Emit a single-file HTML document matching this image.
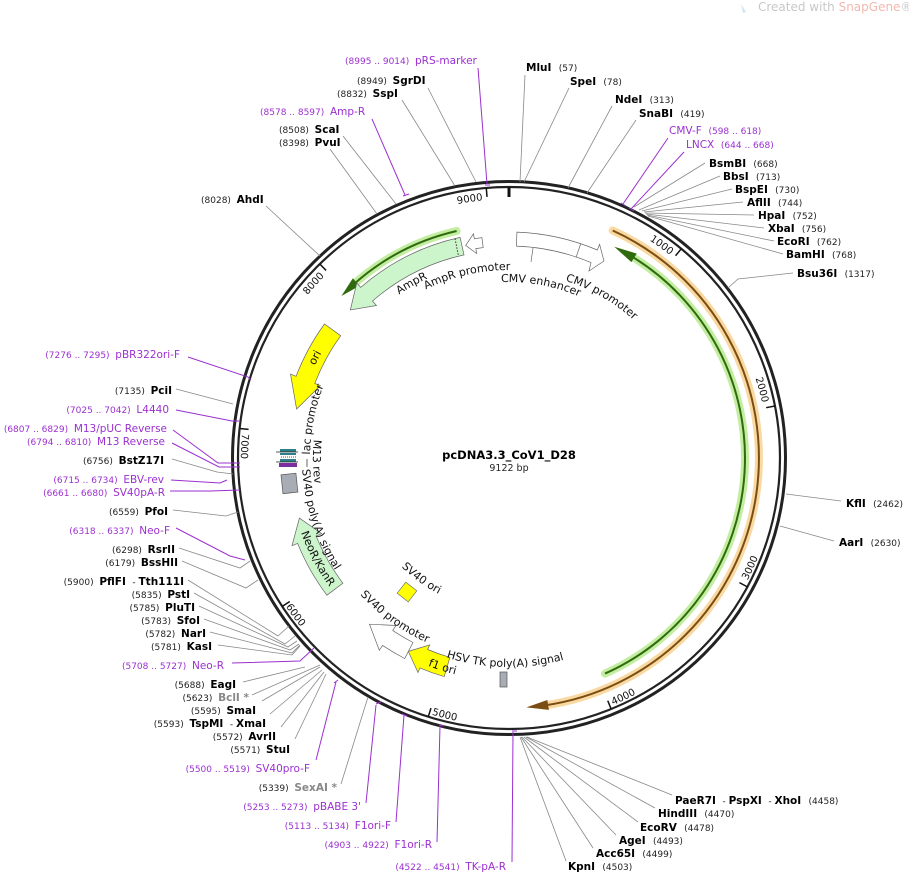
<!DOCTYPE html>
<html><head><meta charset="utf-8"><style>
html,body{margin:0;padding:0;background:#fff;}
svg{display:block;font-family:"DejaVu Sans","Liberation Sans",sans-serif;}
text,tspan{white-space:pre;}
.n{font-size:9px;fill:#222;}
.b{font-size:10.5px;font-weight:bold;fill:#000;}
.pn{font-size:9px;fill:#9b30d0;}
.pb{font-size:10.5px;fill:#9b30d0;}
.gb{font-size:10.5px;font-weight:bold;fill:#888;}
.ln{stroke:#888;stroke-width:0.8;fill:none;}
.pl{stroke:#9b30d0;stroke-width:1;fill:none;}
.fl{font-size:11px;fill:#111;}
.tk{font-size:10px;fill:#111;}
</style></head><body>
<svg width="909" height="874" viewBox="0 0 909 874" xmlns="http://www.w3.org/2000/svg" xml:space="preserve">
<defs>
<path id="cw188" d="M509 646 A188 188 0 1 1 509 270 A188 188 0 1 1 509 646"/>
<path id="cw197" d="M509 655 A197 197 0 1 1 509 261 A197 197 0 1 1 509 655"/>
<path id="cw176" d="M509 634 A176 176 0 1 1 509 282 A176 176 0 1 1 509 634"/>
<path id="cw186" d="M509 644 A186 186 0 1 1 509 272 A186 186 0 1 1 509 644"/>
<path id="cw215" d="M509 673 A215 215 0 1 1 509 243 A215 215 0 1 1 509 673"/>
<path id="cw199" d="M509 657 A199 199 0 1 1 509 259 A199 199 0 1 1 509 657"/>
<path id="cw259" d="M509 717 A259 259 0 1 1 509 199 A259 259 0 1 1 509 717"/>
<path id="cc196" d="M509 262 A196 196 0 1 0 509 654 A196 196 0 1 0 509 262"/>
<path id="cc207" d="M509 251 A207 207 0 1 0 509 665 A207 207 0 1 0 509 251"/>
<path id="cc221" d="M509 237 A221 221 0 1 0 509 679 A221 221 0 1 0 509 237"/>
<path id="cc202" d="M509 256 A202 202 0 1 0 509 660 A202 202 0 1 0 509 256"/>
<path id="cc153" d="M509 305 A153 153 0 1 0 509 611 A153 153 0 1 0 509 305"/>
<path id="cc223" d="M509 235 A223 223 0 1 0 509 681 A223 223 0 1 0 509 235"/>
<path id="cc209" d="M509 249 A209 209 0 1 0 509 667 A209 209 0 1 0 509 249"/>
<path id="cc268" d="M509 190 A268 268 0 1 0 509 726 A268 268 0 1 0 509 190"/>
</defs>

<text x="758" y="11" font-size="12" fill="#c8c8c8">Created with <tspan fill="#f2b8b0">SnapGene</tspan>®</text>
<path d="M741 4 L746 12 L743 13 Z" fill="#cde6f0"/>

<circle cx="509" cy="458" r="276.5" fill="none" stroke="#222" stroke-width="3"/>
<circle cx="509" cy="458" r="271" fill="none" stroke="#222" stroke-width="2.2"/>

<g stroke="#111" stroke-width="1.5">
<line x1="509" y1="187" x2="509" y2="197" stroke-width="3"/>
<line x1="509" y1="187" x2="509" y2="196" transform="rotate(39.47 509 458)"/>
<line x1="509" y1="187" x2="509" y2="196" transform="rotate(78.93 509 458)"/>
<line x1="509" y1="187" x2="509" y2="196" transform="rotate(118.4 509 458)"/>
<line x1="509" y1="187" x2="509" y2="196" transform="rotate(157.86 509 458)"/>
<line x1="509" y1="187" x2="509" y2="196" transform="rotate(197.33 509 458)"/>
<line x1="509" y1="187" x2="509" y2="196" transform="rotate(236.8 509 458)"/>
<line x1="509" y1="187" x2="509" y2="196" transform="rotate(276.26 509 458)"/>
<line x1="509" y1="187" x2="509" y2="196" transform="rotate(315.72 509 458)"/>
<line x1="509" y1="187" x2="509" y2="196" transform="rotate(355.19 509 458)"/>
</g>
<g class="tk" text-anchor="middle">
<text class="tk"><textPath href="#cw259" startOffset="59.9%">1000</textPath></text>
<text class="tk"><textPath href="#cw259" startOffset="70.8%">2000</textPath></text>
<text class="tk"><textPath href="#cc268" startOffset="68.2%">3000</textPath></text>
<text class="tk"><textPath href="#cc268" startOffset="57.1%">4000</textPath></text>
<text class="tk"><textPath href="#cc268" startOffset="46.1%">5000</textPath></text>
<text class="tk"><textPath href="#cc268" startOffset="35.1%">6000</textPath></text>
<text class="tk"><textPath href="#cc268" startOffset="24.3%">7000</textPath></text>
<text class="tk"><textPath href="#cw259" startOffset="36.6%">8000</textPath></text>
<text class="tk"><textPath href="#cw259" startOffset="47.6%">9000</textPath></text>
</g>

<path d="M612.7 230.5 A250 250 0 0 1 543.8 705.5" fill="none" stroke="#f8cf8a" stroke-width="8" stroke-linecap="round" opacity="0.8"/>
<path d="M612.7 230.5 A250 250 0 0 1 543.8 705.5" fill="none" stroke="#7a4e12" stroke-width="2"/>
<path d="M526.4 707.4 L547.3 700 L548.9 709.9 Z" fill="#7a4e12"/>
<path d="M630.5 255.7 A236 236 0 0 1 605 673.6" fill="none" stroke="#b9ea8f" stroke-width="8" stroke-linecap="round" opacity="0.85"/>
<path d="M630.5 255.7 A236 236 0 0 1 605 673.6" fill="none" stroke="#2f6b0e" stroke-width="2"/>
<path d="M614.3 246.8 L631.4 262.1 L636.7 253.6 Z" fill="#2f6b0e"/>
<path d="M456.6 231 A233 233 0 0 0 353 284.9" fill="none" stroke="#b9ea8f" stroke-width="8" stroke-linecap="round" opacity="0.85"/>
<path d="M456.6 231 A233 233 0 0 0 353 284.9" fill="none" stroke="#2f6b0e" stroke-width="2"/>
<path d="M341.4 296 L359.4 285.9 L352.9 278.3 Z" fill="#2f6b0e"/>

<path d="M460.1 237.4 A226 226 0 0 0 360.7 287.4 L356.8 282.9 L350.3 310 L376.5 305.5 L372.5 301 A208 208 0 0 1 464 254.9 Z" fill="#ccf5cc" stroke="#666" stroke-width="0.7"/>
<line x1="455" y1="238.5" x2="458.5" y2="256" stroke="#333" stroke-width="1" stroke-dasharray="1.5 1.5"/>
<path d="M483.2 247.6 L481.9 237.7 L474.3 238.7 L473.5 233.8 L465.7 245.4 L476.6 253.5 L475.8 248.6 Z" fill="#fff" stroke="#666" stroke-width="0.7"/>
<path d="M516.9 232.1 A226 226 0 0 1 597.3 250 L599.6 244.4 L604 261 L589 271 L591 262.6 A212 212 0 0 0 516.4 246.1 Z" fill="#fff" stroke="#666" stroke-width="0.7"/>
<line x1="580.7" y1="243.7" x2="576" y2="257.5" stroke="#666" stroke-width="0.7"/>
<line x1="533" y1="248" x2="531" y2="262" stroke="#666" stroke-width="0.7"/>
<path d="M324.5 324 A228 228 0 0 0 296.1 376.3 L290.5 374.1 L296.6 409 L320.4 385.6 L314.8 383.5 A208 208 0 0 1 340.7 335.7 Z" fill="#ffff00" stroke="#666" stroke-width="0.7"/>
<rect x="280" y="449" width="16" height="3" fill="#2e7f86"/>
<rect x="280" y="453" width="16" height="2" fill="#2e7f86"/>
<line x1="281" y1="457" x2="296" y2="457" stroke="#555" stroke-width="1" stroke-dasharray="1 1"/>
<rect x="280" y="459" width="16" height="3" fill="#2e7f86"/>
<rect x="279" y="463" width="18" height="4" fill="#7b2f9e"/>
<line x1="276" y1="462" x2="298" y2="462" stroke="#222" stroke-width="0.7"/>
<line x1="276" y1="452" x2="298" y2="452" stroke="#222" stroke-width="0.7"/>
<line x1="307" y1="459" x2="307" y2="467" stroke="#444" stroke-width="0.8"/>
<rect x="282" y="474" width="15" height="19" fill="#a8adb5" stroke="#555" stroke-width="0.7" transform="rotate(-6 289 484)"/>
<path d="M326.9 595.2 A228 228 0 0 1 297.6 543.4 L292 545.7 L299.4 518.1 L321.7 533.7 L316.1 535.9 A208 208 0 0 0 342.9 583.2 Z" fill="#ccf5cc" stroke="#666" stroke-width="0.7"/>
<path d="M404.7 658.5 A226 226 0 0 1 382.6 645.4 L379.3 650.3 L369.5 624.2 L396 625.5 L392.7 630.4 A208 208 0 0 0 413 642.5 Z" fill="#fff" stroke="#666" stroke-width="0.7"/>
<path d="M444.2 676.6 A228 228 0 0 1 419.9 667.9 L418 672.5 L408.3 651.4 L429.7 644.9 L427.7 649.5 A208 208 0 0 0 449.9 657.4 Z" fill="#ffff00" stroke="#666" stroke-width="0.7"/>
<rect x="500" y="672" width="7" height="15" fill="#a8adb5" stroke="#555" stroke-width="0.7"/>
<rect x="400" y="585" width="14" height="14" fill="#ffff00" stroke="#777" stroke-width="0.7" transform="rotate(38 407 592)"/>

<g text-anchor="middle">
<text class="fl"><textPath href="#cw188" startOffset="46.4%">AmpR promoter</textPath></text>
<text class="fl"><textPath href="#cw197" startOffset="41.9%">AmpR</textPath></text>
<text class="fl"><textPath href="#cw176" startOffset="52.9%">CMV enhancer</textPath></text>
<text class="fl"><textPath href="#cw186" startOffset="58.3%">CMV promoter</textPath></text>
<text class="fl"><textPath href="#cw215" startOffset="32.6%">ori</textPath></text>
<text class="fl"><textPath href="#cw199" startOffset="28.1%">lac promoter</textPath></text>
<text class="fl"><textPath href="#cc196" startOffset="25.3%">M13 rev</textPath></text>
<text class="fl"><textPath href="#cc207" startOffset="30%">SV40 poly(A) signal</textPath></text>
<text class="fl"><textPath href="#cc221" startOffset="32.7%">NeoR/KanR</textPath></text>
<text class="fl"><textPath href="#cc202" startOffset="40.1%">SV40 promoter</textPath></text>
<text class="fl"><textPath href="#cc153" startOffset="40%">SV40 ori</textPath></text>
<text class="fl"><textPath href="#cc223" startOffset="45.1%">f1 ori</textPath></text>
<text class="fl"><textPath href="#cc209" startOffset="49.7%">HSV TK poly(A) signal</textPath></text>
</g>

<text x="509" y="459" text-anchor="middle" font-size="11.5" font-weight="bold">pcDNA3.3_CoV1_D28</text>
<text x="509" y="471" text-anchor="middle" font-size="9.5" fill="#222">9122 bp</text>

<g class="ln">
<line x1="428" y1="88" x2="476" y2="182"/>
<line x1="402" y1="100" x2="455" y2="186"/>
<line x1="343" y1="136" x2="396" y2="204"/>
<line x1="330" y1="149" x2="377" y2="214"/>
<line x1="266" y1="206" x2="320" y2="256"/>
<line x1="525" y1="75" x2="520" y2="182"/>
<line x1="569" y1="88" x2="524" y2="182"/>
<line x1="612" y1="106" x2="568" y2="188"/>
<line x1="636" y1="120" x2="587" y2="193"/>
<line x1="705" y1="163" x2="634" y2="207"/>
<line x1="720" y1="176" x2="639" y2="210"/>
<line x1="732" y1="189" x2="642" y2="211"/>
<line x1="743" y1="202" x2="644" y2="212"/>
<line x1="754" y1="215" x2="645" y2="213"/>
<line x1="764" y1="228" x2="646" y2="214"/>
<line x1="774" y1="241" x2="647" y2="215"/>
<line x1="783" y1="254" x2="648" y2="216"/>
<polyline points="793,273 738,279 728,288"/>
<line x1="841" y1="501" x2="786" y2="494"/>
<line x1="834" y1="541" x2="780" y2="526"/>
<line x1="672" y1="795" x2="527" y2="737"/>
<line x1="655" y1="808" x2="526" y2="737"/>
<line x1="638" y1="822" x2="524" y2="737"/>
<line x1="616" y1="835" x2="522" y2="737"/>
<line x1="593" y1="848" x2="521" y2="737"/>
<line x1="566" y1="861" x2="520" y2="737"/>
<line x1="341" y1="784" x2="368" y2="697"/>
<line x1="295" y1="739" x2="326" y2="674"/>
<line x1="281" y1="727" x2="324" y2="672"/>
<line x1="270" y1="714" x2="322" y2="670"/>
<line x1="262" y1="701" x2="320" y2="667"/>
<line x1="252" y1="695" x2="320" y2="665"/>
<line x1="243" y1="682" x2="305" y2="667"/>
<polyline points="218,645 292,655 300,646"/>
<polyline points="210,632 292,653 300,645"/>
<polyline points="204,619 290,650 299,644"/>
<polyline points="199,606 288,647 297,641"/>
<polyline points="194,593 285,644 295,636"/>
<polyline points="188,580 278,636 289,626"/>
<polyline points="182,561 246,588 258,580"/>
<polyline points="179,548 240,568 250,561"/>
<polyline points="173,510 226,516 238,512"/>
<polyline points="172,459 217,472 233,474"/>
<line x1="176" y1="389" x2="233" y2="404"/>
</g>
<g class="pl">
<line x1="478" y1="68" x2="487" y2="184"/>
<path d="M485 185 L490 185"/>
<line x1="372" y1="119" x2="405" y2="195"/>
<path d="M403 196 L409 194"/>
<line x1="668" y1="138" x2="623" y2="204"/>
<path d="M621 203 L626 206"/>
<line x1="684" y1="152" x2="631" y2="209"/>
<path d="M629 208 L634 211"/>
<line x1="512" y1="862" x2="513" y2="732"/>
<path d="M512 731 L517 731"/>
<line x1="437" y1="842" x2="440" y2="726"/>
<path d="M439 725 L444 726"/>
<line x1="396" y1="822" x2="404" y2="715"/>
<path d="M402 714 L407 716"/>
<line x1="366" y1="803" x2="376" y2="705"/>
<path d="M376 704 L381 702"/>
<line x1="316" y1="760" x2="336" y2="682"/>
<path d="M334 683 L338 680"/>
<polyline points="232,663 300,661 314,648"/>
<polyline points="176,528 230,556 245,560"/>
<polyline points="170,491 210,491 240,490"/>
<polyline points="171,480 220,483 227,480"/>
<polyline points="172,443 219,467 240,467"/>
<polyline points="173,430 218,463 240,463"/>
<polyline points="176,410 232,421 240,421"/>
<polyline points="188,357 248,377 251,380"/>
</g>

<text x="345" y="64"><tspan class="pn">(8995 .. 9014)  </tspan><tspan class="pb">pRS-marker</tspan></text>
<text x="357" y="84"><tspan class="n">(8949)  </tspan><tspan class="b">SgrDI</tspan></text>
<text x="337" y="97"><tspan class="n">(8832)  </tspan><tspan class="b">SspI</tspan></text>
<text x="260" y="115"><tspan class="pn">(8578 .. 8597)  </tspan><tspan class="pb">Amp-R</tspan></text>
<text x="279" y="133"><tspan class="n">(8508)  </tspan><tspan class="b">ScaI</tspan></text>
<text x="279" y="146"><tspan class="n">(8398)  </tspan><tspan class="b">PvuI</tspan></text>
<text x="201" y="203"><tspan class="n">(8028)  </tspan><tspan class="b">AhdI</tspan></text>

<text x="526" y="71"><tspan class="b">MluI  </tspan><tspan class="n">(57)</tspan></text>
<text x="570" y="85"><tspan class="b">SpeI  </tspan><tspan class="n">(78)</tspan></text>
<text x="615" y="103"><tspan class="b">NdeI  </tspan><tspan class="n">(313)</tspan></text>
<text x="639" y="117"><tspan class="b">SnaBI  </tspan><tspan class="n">(419)</tspan></text>
<text x="669" y="134"><tspan class="pb">CMV-F  </tspan><tspan class="pn">(598 .. 618)</tspan></text>
<text x="686" y="148"><tspan class="pb">LNCX  </tspan><tspan class="pn">(644 .. 668)</tspan></text>
<text x="709" y="167"><tspan class="b">BsmBI  </tspan><tspan class="n">(668)</tspan></text>
<text x="723" y="180"><tspan class="b">BbsI  </tspan><tspan class="n">(713)</tspan></text>
<text x="735" y="193"><tspan class="b">BspEI  </tspan><tspan class="n">(730)</tspan></text>
<text x="747" y="206"><tspan class="b">AflII  </tspan><tspan class="n">(744)</tspan></text>
<text x="758" y="219"><tspan class="b">HpaI  </tspan><tspan class="n">(752)</tspan></text>
<text x="768" y="232"><tspan class="b">XbaI  </tspan><tspan class="n">(756)</tspan></text>
<text x="777" y="245"><tspan class="b">EcoRI  </tspan><tspan class="n">(762)</tspan></text>
<text x="786" y="258"><tspan class="b">BamHI  </tspan><tspan class="n">(768)</tspan></text>
<text x="797" y="277"><tspan class="b">Bsu36I  </tspan><tspan class="n">(1317)</tspan></text>
<text x="846" y="507"><tspan class="b">KflI  </tspan><tspan class="n">(2462)</tspan></text>
<text x="839" y="546"><tspan class="b">AarI  </tspan><tspan class="n">(2630)</tspan></text>

<text x="675" y="804"><tspan class="b">PaeR7I </tspan><tspan class="n"> - </tspan><tspan class="b">PspXI </tspan><tspan class="n"> - </tspan><tspan class="b">XhoI  </tspan><tspan class="n">(4458)</tspan></text>
<text x="658" y="817"><tspan class="b">HindIII  </tspan><tspan class="n">(4470)</tspan></text>
<text x="640" y="831"><tspan class="b">EcoRV  </tspan><tspan class="n">(4478)</tspan></text>
<text x="619" y="844"><tspan class="b">AgeI  </tspan><tspan class="n">(4493)</tspan></text>
<text x="596" y="857"><tspan class="b">Acc65I  </tspan><tspan class="n">(4499)</tspan></text>
<text x="568" y="870"><tspan class="b">KpnI  </tspan><tspan class="n">(4503)</tspan></text>

<g text-anchor="end">
<text x="180" y="358"><tspan class="pn">(7276 .. 7295)  </tspan><tspan class="pb">pBR322ori-F</tspan></text>
<text x="172" y="394"><tspan class="n">(7135)  </tspan><tspan class="b">PciI</tspan></text>
<text x="169" y="413"><tspan class="pn">(7025 .. 7042)  </tspan><tspan class="pb">L4440</tspan></text>
<text x="167" y="432"><tspan class="pn">(6807 .. 6829)  </tspan><tspan class="pb">M13/pUC Reverse</tspan></text>
<text x="165" y="445"><tspan class="pn">(6794 .. 6810)  </tspan><tspan class="pb">M13 Reverse</tspan></text>
<text x="164" y="464"><tspan class="n">(6756)  </tspan><tspan class="b">BstZ17I</tspan></text>
<text x="164" y="483"><tspan class="pn">(6715 .. 6734)  </tspan><tspan class="pb">EBV-rev</tspan></text>
<text x="165" y="496"><tspan class="pn">(6661 .. 6680)  </tspan><tspan class="pb">SV40pA-R</tspan></text>
<text x="168" y="515"><tspan class="n">(6559)  </tspan><tspan class="b">PfoI</tspan></text>
<text x="170" y="534"><tspan class="pn">(6318 .. 6337)  </tspan><tspan class="pb">Neo-F</tspan></text>
<text x="175" y="553"><tspan class="n">(6298)  </tspan><tspan class="b">RsrII</tspan></text>
<text x="178" y="566"><tspan class="n">(6179)  </tspan><tspan class="b">BssHII</tspan></text>
<text x="184" y="585"><tspan class="n">(5900)  </tspan><tspan class="b">PflFI </tspan><tspan class="n"> - </tspan><tspan class="b">Tth111I</tspan></text>
<text x="190" y="598"><tspan class="n">(5835)  </tspan><tspan class="b">PstI</tspan></text>
<text x="195" y="611"><tspan class="n">(5785)  </tspan><tspan class="b">PluTI</tspan></text>
<text x="200" y="624"><tspan class="n">(5783)  </tspan><tspan class="b">SfoI</tspan></text>
<text x="206" y="637"><tspan class="n">(5782)  </tspan><tspan class="b">NarI</tspan></text>
<text x="212" y="650"><tspan class="n">(5781)  </tspan><tspan class="b">KasI</tspan></text>
<text x="224" y="669"><tspan class="pn">(5708 .. 5727)  </tspan><tspan class="pb">Neo-R</tspan></text>
<text x="236" y="688"><tspan class="n">(5688)  </tspan><tspan class="b">EagI</tspan></text>
<text x="249" y="701"><tspan class="n">(5623)  </tspan><tspan class="gb">BclI *</tspan></text>
<text x="256" y="714"><tspan class="n">(5595)  </tspan><tspan class="b">SmaI</tspan></text>
<text x="266" y="727"><tspan class="n">(5593)  </tspan><tspan class="b">TspMI </tspan><tspan class="n"> - </tspan><tspan class="b">XmaI</tspan></text>
<text x="276" y="740"><tspan class="n">(5572)  </tspan><tspan class="b">AvrII</tspan></text>
<text x="290" y="753"><tspan class="n">(5571)  </tspan><tspan class="b">StuI</tspan></text>
<text x="310" y="772"><tspan class="pn">(5500 .. 5519)  </tspan><tspan class="pb">SV40pro-F</tspan></text>
<text x="337" y="791"><tspan class="n">(5339)  </tspan><tspan class="gb">SexAI *</tspan></text>
<text x="361" y="810"><tspan class="pn">(5253 .. 5273)  </tspan><tspan class="pb">pBABE 3'</tspan></text>
<text x="391" y="829"><tspan class="pn">(5113 .. 5134)  </tspan><tspan class="pb">F1ori-F</tspan></text>
<text x="432" y="848"><tspan class="pn">(4903 .. 4922)  </tspan><tspan class="pb">F1ori-R</tspan></text>
<text x="506" y="870"><tspan class="pn">(4522 .. 4541)  </tspan><tspan class="pb">TK-pA-R</tspan></text>
</g>
</svg>
</body></html>
